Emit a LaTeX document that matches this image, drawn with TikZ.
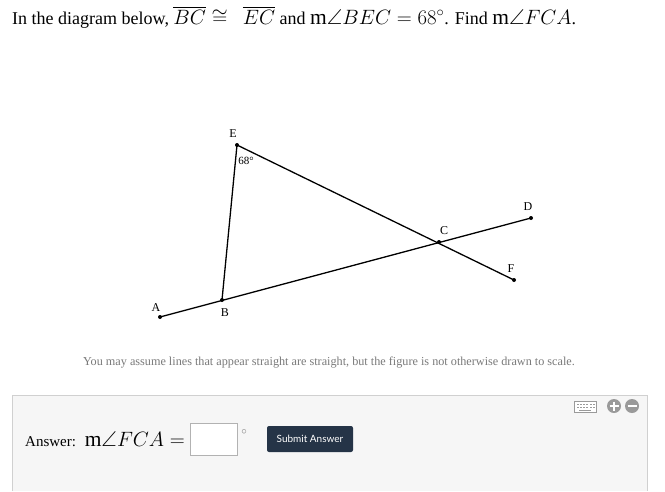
\documentclass[tikz,border=0pt]{standalone}
\usepackage{fontspec}
\setmainfont{Liberation Serif}
\setsansfont{Lato}
\usepackage{amssymb}
\definecolor{btn}{HTML}{253447}
\definecolor{boxbg}{HTML}{F6F6F6}
\definecolor{boxln}{HTML}{D0D0D0}
\definecolor{icon}{HTML}{9A9A9A}
\definecolor{note}{HTML}{7A7A7A}
\newcommand{\mjx}[1]{{\fontsize{21.5}{24}\selectfont$#1$}}
\begin{document}
\begin{tikzpicture}[x=1pt,y=-1pt,
  seg/.style={line width=1.3pt},
  pt/.style={circle,fill=black,inner sep=0pt,minimum size=4pt},
  lbl/.style={font=\fontsize{12}{14}\selectfont,inner sep=0pt}]
\useasboundingbox (0,0) rectangle (665,491);
\fill[white] (0,0) rectangle (665,491);
% title
\node[anchor=west,inner sep=0pt,font=\fontsize{18}{21}\selectfont] (title) at (12,17)
 {In the diagram below, \mjx{\overline{BC}\cong\;\,\overline{EC}} and \mjx{\mathrm{m}\angle BEC=68^\circ}. Find \mjx{\mathrm{m}\angle FCA}.};
% points
\node[pt] (E) at (237,145) {};
\node[pt] (B) at (222,300) {};
\node[pt] (A) at (160,317) {};
\node[pt] (C) at (439,242) {};
\node[pt] (D) at (531,218) {};
\node[pt] (F) at (514,280) {};
\draw[seg] (A.center) -- (D.center);
\draw[seg] (B.center) -- (E.center) -- (F.center);
\node[lbl] (lE) at (233,134) {E};
\node[lbl] (lA) at (156,308) {A};
\node[lbl] (lB) at (225,313) {B};
\node[lbl] (lC) at (444,231) {C};
\node[lbl] (lD) at (528,207) {D};
\node[lbl] (lF) at (511,269) {F};
\node[lbl,font=\fontsize{11}{13}\selectfont] (ang) at (246,161) {68°};
% note
\node[inner sep=0pt,text=note,font=\fontsize{12.2}{14}\selectfont] (noteT) at (329,363)
 {You may assume lines that appear straight are straight, but the figure is not otherwise drawn to scale.};
% answer box
\fill[boxbg] (12,395) rectangle (647,491);
\draw[boxln] (12,491) -- (12,395) -- (647,395) -- (647,491);
\node[anchor=west,inner sep=0pt,font=\fontsize{15}{18}\selectfont] (ans) at (25,439)
 {Answer: \ \mjx{\mathrm{m}\angle FCA=}};
\node[draw=gray!60,fill=white,minimum width=47pt,minimum height=32pt,inner sep=0pt] (inp) at (213.5,439) {};
\node[inner sep=0pt,font=\fontsize{11}{13}\selectfont,text=gray] (deg) at (244,432) {$\circ$};
\node[fill=btn,rounded corners=2pt,minimum width=86pt,minimum height=26pt,inner sep=0pt,
  text=white,font=\sffamily\fontsize{10}{12}\selectfont] (sub) at (310,439) {Submit Answer};
% icons
\node[draw=icon,fill=white,minimum width=22pt,minimum height=11pt,inner sep=0pt,line width=0.8pt] (kbd) at (585,407) {};
\foreach \i in {0,...,5}{\fill[icon] (576.5+\i*3.3,403.5) rectangle ++(2,1.6);
  \fill[icon] (576.5+\i*3.3,406.5) rectangle ++(2,1.6);}
\fill[icon] (579,409.5) rectangle (591,411);
\node[circle,fill=icon,minimum size=14pt,inner sep=0pt] (plus) at (614,406) {};
\draw[white,line width=2.2pt] (609.5,406) -- (618.5,406) (614,401.5) -- (614,410.5);
\node[circle,fill=icon,minimum size=14pt,inner sep=0pt] (minus) at (632,406) {};
\draw[white,line width=2.2pt] (627.5,406) -- (636.5,406);
\end{tikzpicture}
\end{document}
